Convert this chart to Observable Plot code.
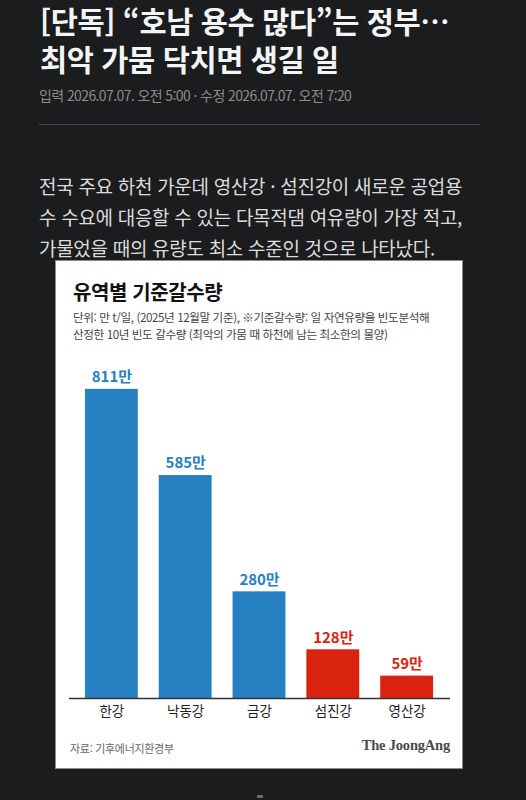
<!DOCTYPE html>
<html lang="ko">
<head>
<meta charset="utf-8">
<script src="https://cdn.jsdelivr.net/npm/d3@7"></script>
<script src="https://cdn.jsdelivr.net/npm/@observablehq/plot@0.6"></script>
<style>
  html, body { margin: 0; padding: 0; }
  body { width: 526px; height: 800px; background: #1b1c1e; position: relative; overflow: hidden;
         font-family: "Noto Sans CJK KR", "Noto Sans", sans-serif; }
  .abs { position: absolute; white-space: nowrap; }
  #headline { left: 40px; top: 1px; color: #f4f4f4; font-size: 29.5px; font-weight: 700; line-height: 38px; letter-spacing: -0.4px; }
  #dateline { left: 39px; top: 85px; color: #8c8c8c; font-size: 14px; letter-spacing: -0.6px; }
  #hr { left: 39px; top: 124px; width: 441px; height: 1px; background: #46474a; }
  #lead { left: 39px; top: 170px; color: #dcdcdc; font-size: 19px; line-height: 31px; letter-spacing: -0.3px; }
  #card { left: 55px; top: 260px; width: 408px; height: 509px; background: #ffffff; border: 1px solid #8a8a8a; box-sizing: border-box; }
  #ctitle { left: 17px; top: 16px; color: #111; font-size: 20px; font-weight: 700; letter-spacing: -0.4px; }
  #csub { left: 17px; top: 48px; color: #444; font-size: 11.6px; line-height: 17px; letter-spacing: -0.4px; }
  #chart { left: -1px; top: 79px; }
  #source { left: 14px; top: 479px; color: #666; font-size: 11px; letter-spacing: -0.3px; }
  #brand { right: 12px; top: 476px; color: #4a4a4a; font-size: 14.5px; font-weight: 700; font-family: "Liberation Serif", "DejaVu Serif", serif; letter-spacing: -0.2px; }
  #dash { left: 257px; top: 795px; width: 6px; height: 3px; border-radius: 1px; background: #6b6b6b; }
</style>
</head>
<body>
<div id="headline" class="abs">[단독] “호남 용수 많다”는 정부…<br>최악 가뭄 닥치면 생길 일</div>
<div id="dateline" class="abs">입력 2026.07.07. 오전 5:00 · 수정 2026.07.07. 오전 7:20</div>
<div id="hr" class="abs"></div>
<div id="lead" class="abs">전국 주요 하천 가운데 영산강 · 섬진강이 새로운 공업용<br>수 수요에 대응할 수 있는 다목적댐 여유량이 가장 적고,<br>가물었을 때의 유량도 최소 수준인 것으로 나타났다.</div>
<div id="card" class="abs">
  <div id="ctitle" class="abs">유역별 기준갈수량</div>
  <div id="csub" class="abs">단위: 만 t/일, (2025년 12월말 기준), ※기준갈수량: 일 자연유량을 빈도분석해<br>산정한 10년 빈도 갈수량 (최악의 가뭄 때 하천에 남는 최소한의 물양)</div>
  <div id="chart" class="abs"></div>
  <div id="source" class="abs">자료: 기후에너지환경부</div>
  <div id="brand" class="abs">The JoongAng</div>
</div>
<div id="dash" class="abs"></div>
<script>
// Data
const rivers = ["한강", "낙동강", "금강", "섬진강", "영산강"];
const flows = [811, 585, 280, 128, 59];          // 만 t/일
const lowRivers = ["섬진강", "영산강"];            // highlighted (lowest)
const unitSuffix = "만";

const data = rivers.map((r, i) => ({
  river: r,
  value: flows[i],
  group: lowRivers.includes(r) ? "low" : "other"
}));

const chart = Plot.plot({
  width: 408,
  height: 390,
  marginLeft: 14,
  marginRight: 12,
  marginTop: 49,
  marginBottom: 31,
  style: { fontFamily: "'Noto Sans CJK KR', sans-serif", fontSize: "13.5px", color: "#222", background: "transparent", overflow: "visible" },
  x: { domain: rivers, paddingInner: 0.28, paddingOuter: 0.19, label: null, tickSize: 0, tickPadding: 8 },
  y: { domain: [0, 811], axis: null },
  color: { domain: ["other", "low"], range: ["#2680c2", "#d9230f"] },
  marks: [
    Plot.barY(data, { x: "river", y: "value", fill: "group" }),
    Plot.text(data, {
      x: "river", y: "value", text: d => d.value + unitSuffix,
      fill: "group", dy: -12, fontWeight: "bold", fontSize: 15
    }),
    Plot.ruleY([0], { stroke: "#333", strokeWidth: 1.5 })
  ]
});
document.getElementById("chart").appendChild(chart);
</script>
</body>
</html>
